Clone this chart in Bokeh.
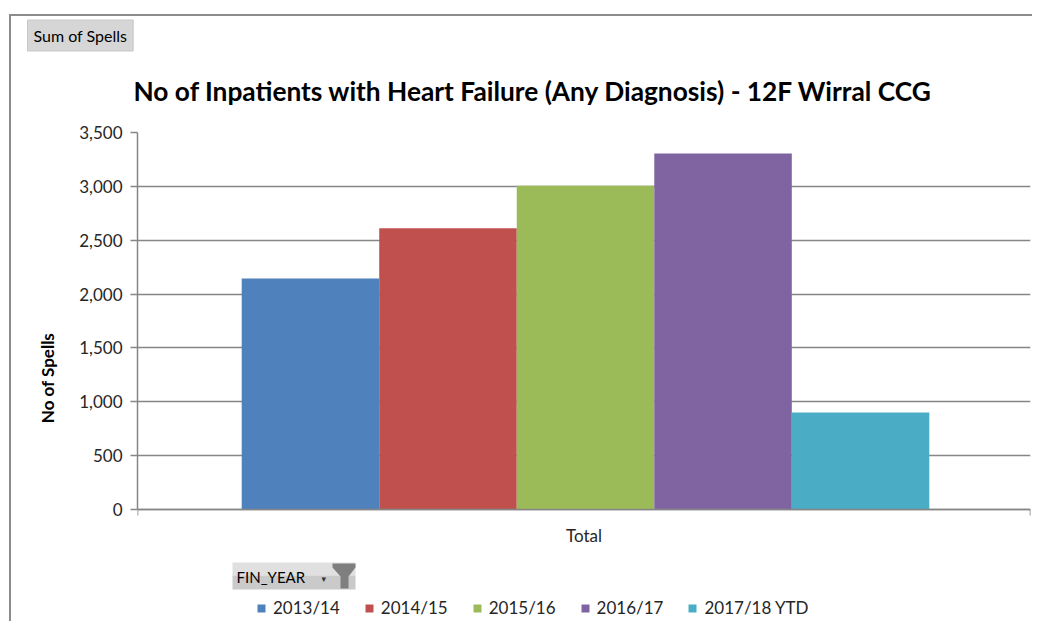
from bokeh.plotting import figure
from bokeh.models import (ColumnDataSource, Legend, LegendItem, Title, Label, BoxAnnotation,
                          PolyAnnotation, NumeralTickFormatter, FixedTicker, Range1d, FactorRange)
from bokeh.transform import dodge
from bokeh.embed import file_html
from bokeh.resources import INLINE

# ---- data ----
categories = ["Total"]
years = ["2013/14", "2014/15", "2015/16", "2016/17", "2017/18 YTD"]
spells = [2145, 2610, 3005, 3305, 900]
y_ticks = [0, 500, 1000, 1500, 2000, 2500, 3000, 3500]
title_text = "No of Inpatients with Heart Failure (Any Diagnosis) - 12F Wirral CCG"

# ---- styles ----
colors = ["#4F81BD", "#C0504D", "#9BBB59", "#8064A2", "#4BACC6"]
FONT = "Lato"
GRID = "#868686"
TXT = "#262626"

W, H = 1023, 607
FB = 623           # expected page y of the frame bottom
ZERO = 509         # page y of the value 0
TOP = 132          # page y of the value 3500
y_lo = -(FB - ZERO) * 3500 / (ZERO - TOP)

p = figure(width=W, height=H, x_range=FactorRange(*categories, range_padding=0),
           y_range=Range1d(y_lo, 3500), output_backend="svg", toolbar_location=None,
           min_border_left=126, min_border_right=4, min_border_top=116, min_border_bottom=0)
p.styles = {"margin-left": "9px", "margin-top": "14px",
            "border-left": "2px solid #8c8c8c", "border-top": "2px solid #8c8c8c"}
p.background_fill_color = "white"
p.border_fill_color = "white"
p.outline_line_color = None

bar_w = 0.154
renderers = []
for i, (yr, val, col) in enumerate(zip(years, spells, colors)):
    src = ColumnDataSource(dict(cat=categories, val=[val]))
    r = p.vbar(x=dodge("cat", (i - 2) * bar_w + 0.0017, range=p.x_range), top="val", width=bar_w,
               source=src, fill_color=col, line_color=None)
    renderers.append((yr, r))

# axes
p.yaxis.ticker = FixedTicker(ticks=y_ticks)
p.yaxis.bounds = (0, 3500)
p.yaxis.formatter = NumeralTickFormatter(format="0,0")
p.yaxis.axis_label = "No of Spells"
p.yaxis.axis_label_text_font = FONT
p.yaxis.axis_label_text_font_style = "bold"
p.yaxis.axis_label_text_font_size = "17px"
p.yaxis.axis_label_text_color = "black"
p.yaxis.axis_label_standoff = 18
p.yaxis.major_tick_out = 7
p.yaxis.major_tick_in = 0
p.yaxis.minor_tick_line_color = None
p.yaxis.major_label_standoff = 8
for ax in (p.xaxis, p.yaxis):
    ax.axis_line_color = GRID
    ax.axis_line_width = 1.5
    ax.major_tick_line_color = GRID
    ax.major_tick_line_width = 1.5
    ax.major_label_text_font = FONT
    ax.major_label_text_font_size = "17px"
    ax.major_label_text_color = TXT
p.xaxis.fixed_location = 0
p.xaxis.major_tick_line_color = None
p.xaxis.major_label_standoff = 9

p.xgrid.grid_line_color = None
p.ygrid.grid_line_color = GRID
p.ygrid.grid_line_width = 1.5

# title (above, nearest the frame)
p.add_layout(Title(text=title_text, align="left", offset=-4, standoff=51,
                   text_font=FONT, text_font_style="bold", text_font_size="26.3px",
                   text_color="black"), "above")
# "Sum of Spells" field button
p.add_layout(Title(text="Sum of Spells", align="left", offset=-110, standoff=-7,
                   text_font=FONT, text_font_style="normal", text_font_size="16px",
                   text_color="black", background_fill_color="#d6d6d6",
                   border_line_color="#c8c8c8", padding=6), "above")

# helpers: page pixel -> frame-relative screen units
FL = 137
def sx(x):
    return x - FL
def sy(y):
    return FB - y

def box(l, r, t, b, color):
    p.add_layout(BoxAnnotation(left=sx(l), right=sx(r), top=sy(t), bottom=sy(b),
                               left_units="screen", right_units="screen", top_units="screen",
                               bottom_units="screen", fill_color=color, fill_alpha=1, line_color=None))

# small end ticks of the category axis
box(136.2, 137.8, 509, 515, GRID)
box(1029.2, 1030.8, 509, 515, GRID)

# "FIN_YEAR" field button inside the plot area, above the legend
box(232, 355, 562, 575, "#e0e0e0")
box(232, 355, 575, 589, "#cacaca")
p.add_layout(Label(x=sx(236), y=sy(576), x_units="screen", y_units="screen", text="FIN_YEAR",
                   text_font=FONT, text_font_size="15px", text_color="black", text_baseline="middle"))
p.add_layout(Label(x=sx(321), y=sy(578), x_units="screen", y_units="screen", text="\u25be",
                   text_font="DejaVu Sans", text_font_size="9px", text_color="#333333",
                   text_baseline="middle"))
p.add_layout(PolyAnnotation(xs=[sx(v) for v in (332, 355, 355, 348, 348, 340, 340, 332)],
                            ys=[sy(v) for v in (563, 563, 567, 576, 588, 588, 576, 567)],
                            xs_units="screen", ys_units="screen",
                            fill_color="#7f7f7f", fill_alpha=1, line_color=None))

# legend inside the (extended) plot area
legend = Legend(items=[LegendItem(label=yr, renderers=[r]) for yr, r in renderers],
                orientation="horizontal", location=(sx(256), sy(618)),
                glyph_width=10, glyph_height=10, label_standoff=7, spacing=24,
                padding=0, margin=0, border_line_color=None, background_fill_alpha=0,
                label_text_font=FONT, label_text_font_size="17px", label_text_color=TXT)
p.add_layout(legend, "center")

open("out.html", "w").write(file_html(p, INLINE))
